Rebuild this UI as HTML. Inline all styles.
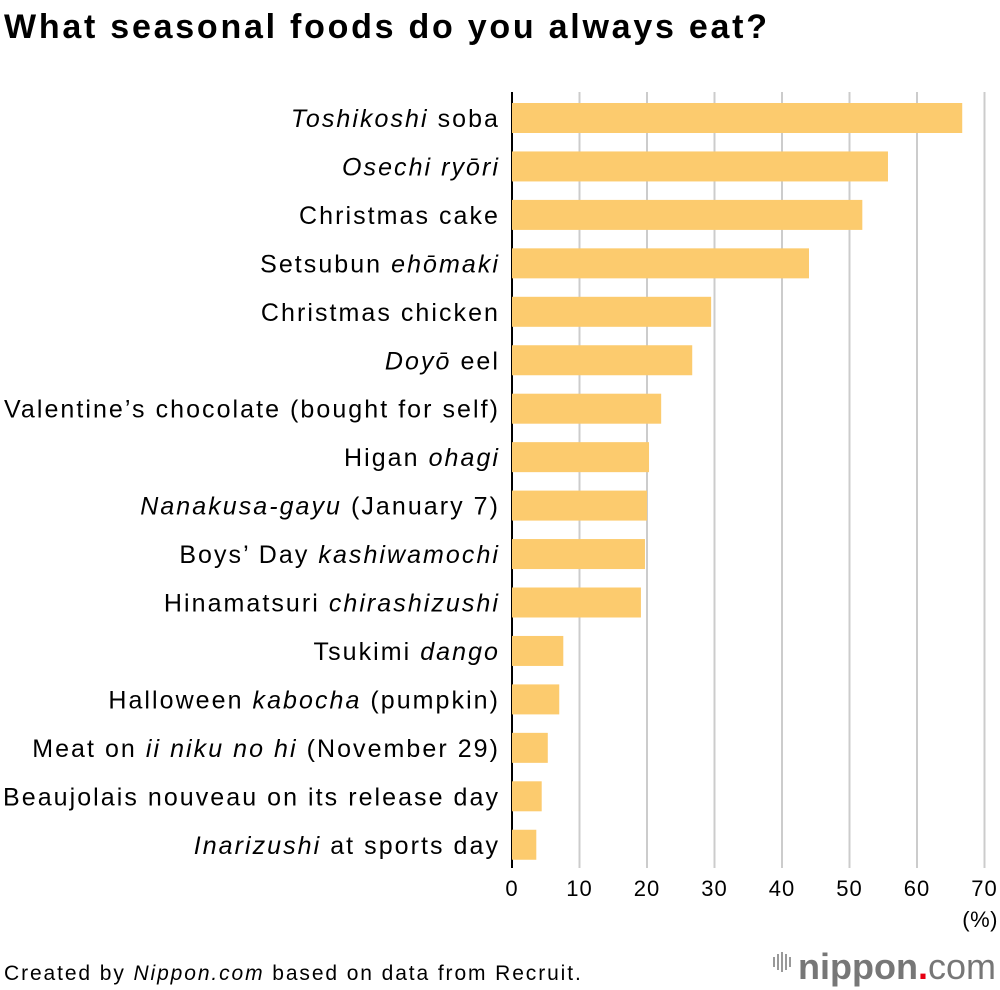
<!DOCTYPE html>
<html><head><meta charset="utf-8">
<style>
body{margin:0;background:#fff;width:1000px;height:990px;overflow:hidden;font-family:"Liberation Sans",sans-serif;}
svg{position:absolute;left:0;top:0;}
</style></head>
<body>
<svg id="chart" width="1000" height="990">
<text x="4" y="38" font-size="34" font-weight="bold" letter-spacing="2.75" fill="#000">What seasonal foods do you always eat?</text>
<g id="grid"></g><g id="bars"></g><g id="labels"></g><g id="ticks"></g>
<text x="998" y="927" font-size="22" letter-spacing="0.5" text-anchor="end">(%)</text>
<text x="4" y="980" font-size="21" letter-spacing="1.9">Created by <tspan font-style="italic">Nippon.com</tspan> based on data from Recruit.</text>
<g>
<rect x="773" y="957" width="2" height="10" fill="#999"/><rect x="777" y="954" width="2" height="16" fill="#999"/><rect x="781" y="952" width="2" height="20" fill="#999"/><rect x="785" y="954" width="2" height="16" fill="#999"/><rect x="789" y="957" width="2" height="10" fill="#999"/>
<text x="798" y="979" font-size="36" font-weight="bold" fill="#777">nippon<tspan fill="#e60012">.</tspan><tspan font-weight="normal" fill="#777">com</tspan></text>
</g>
</svg>
<script>
const categories=[["","Toshikoshi"," soba"],["","Osechi ryōri",""],["Christmas cake","",""],["Setsubun ","ehōmaki",""],["Christmas chicken","",""],["","Doyō"," eel"],["Valentine’s chocolate (bought for self)","",""],["Higan ","ohagi",""],["","Nanakusa-gayu"," (January 7)"],["Boys’ Day ","kashiwamochi",""],["Hinamatsuri ","chirashizushi",""],["Tsukimi ","dango",""],["Halloween ","kabocha"," (pumpkin)"],["Meat on ","ii niku no hi"," (November 29)"],["Beaujolais nouveau on its release day","",""],["","Inarizushi"," at sports day"]];
const values=[66.7,55.7,51.9,44.0,29.5,26.7,22.1,20.3,20.0,19.7,19.1,7.6,7.0,5.3,4.4,3.6];
const ticks=[0,10,20,30,40,50,60,70];
const NS="http://www.w3.org/2000/svg";
const x0=512,pxPer=6.75,y0=118,step=48.45,bh=30;
const xs=v=>x0+v*pxPer, ys=i=>y0+i*step;
function mk(t,a,p){const e=document.createElementNS(NS,t);for(const k in a)e.setAttribute(k,a[k]);p.appendChild(e);return e;}
const G=document.getElementById('grid'),B=document.getElementById('bars'),L=document.getElementById('labels'),T=document.getElementById('ticks');
ticks.forEach(t=>{
 if(t>0){const l=mk('line',{x1:xs(t),x2:xs(t),y1:92,y2:868,stroke:'#ccc','stroke-width':2},G);
 
 }
 const tx=mk('text',{x:xs(t),y:896,'font-size':22,'letter-spacing':1,'text-anchor':'middle'},T);tx.textContent=t;
 
 
});
values.forEach((v,i)=>{
 const r=mk('rect',{x:x0,y:ys(i)-bh/2,width:xs(v)-x0,height:bh,fill:'#fccb6e'},B);
 
 
 const tx=mk('text',{x:500,y:ys(i)+9,'font-size':25,'letter-spacing':2.05,'text-anchor':'end'},L);
 
 
 const c=categories[i];
 [[c[0],0],[c[1],1],[c[2],0]].forEach(([s,it])=>{if(!s)return;const sp=mk('tspan',it?{'font-style':'italic'}:{},tx);sp.textContent=s;});
});
const ax=mk('line',{x1:x0,x2:x0,y1:92,y2:868,stroke:'#000','stroke-width':2},G);


</script>
</body></html>
